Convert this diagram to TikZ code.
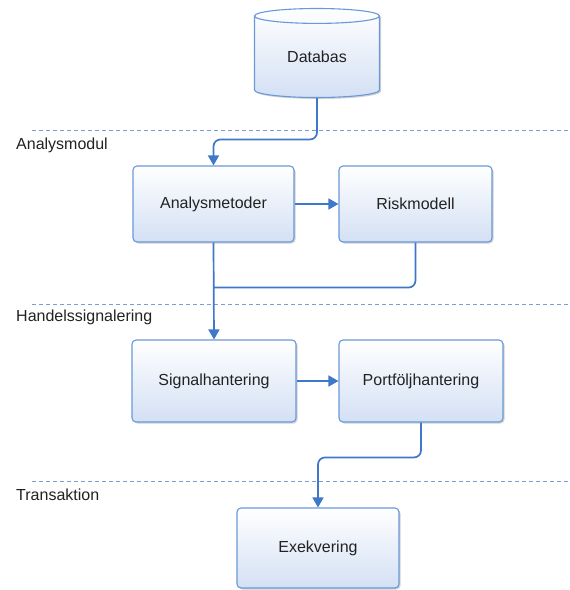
\documentclass[tikz,border=0pt]{standalone}
\usepackage{fontspec}
\setmainfont{Liberation Sans}
\usetikzlibrary{arrows.meta,shapes.geometric,shadows,calc}
\definecolor{boxborder}{HTML}{6A98D8}
\definecolor{boxbot}{HTML}{D3E0F4}
\definecolor{conncol}{HTML}{3F78C8}
\definecolor{dashcol}{HTML}{7B9FD4}
\definecolor{txtcol}{HTML}{222222}
\tikzset{
  box/.style={draw=boxborder, line width=1.1pt, rounded corners=4pt,
    top color=white, bottom color=boxbot, inner sep=0pt,
    font=\fontsize{16}{18}\selectfont, text=txtcol,
    drop shadow={shadow xshift=1.5pt, shadow yshift=-1.5pt, fill=black, opacity=0.18}},
  dbstyle/.style={cylinder, shape border rotate=90, aspect=0.25,
    draw=boxborder, line width=1.1pt, top color=white, bottom color=boxbot,
    inner sep=0pt, font=\fontsize{16}{18}\selectfont, text=txtcol,
    drop shadow={shadow xshift=1.5pt, shadow yshift=-1.5pt, fill=black, opacity=0.18}},
  conn/.style={draw=conncol, line width=1.7pt, rounded corners=7pt},
  arr/.style={conn, -{Triangle[width=11pt,length=10pt]}},
  sep/.style={draw=dashcol, line width=1pt, dash pattern=on 4pt off 3pt},
  lane/.style={anchor=base west, font=\fontsize{16}{18}\selectfont, text=txtcol, inner sep=0pt}
}
\begin{document}
\begin{tikzpicture}[x=1pt,y=-1pt]
\useasboundingbox (0,0) rectangle (570,590);
% separators
\draw[sep] (32,130) -- (570,130);
\draw[sep] (32,304) -- (570,304);
\draw[sep] (32,481) -- (570,481);
% lane labels
\node[lane] (l1) at (16,149) {Analysmodul};
\node[lane] (l2) at (16,321) {Handelssignalering};
\node[lane] (l3) at (16,500) {Transaktion};
% nodes
\node[dbstyle, minimum width=125pt, minimum height=89pt] (db) at (317,57) {Databas};
\node[box, minimum width=161pt, minimum height=76pt] (am) at (213.5,204) {Analysmetoder};
\node[box, minimum width=153pt, minimum height=76pt] (rm) at (415.5,204) {Riskmodell};
\node[box, minimum width=164pt, minimum height=82pt] (sig) at (214,381) {Signalhantering};
\node[box, minimum width=164pt, minimum height=82pt] (port) at (421,381) {Portföljhantering};
\node[box, minimum width=162pt, minimum height=80pt] (exe) at (318,548) {Exekvering};
% connectors
\draw[arr] (db.south) |- ($(am.north)+(0,-26)$) -- (am.north);
\draw[arr] (am.east) -- (rm.west);
\coordinate (mj) at ($(am.south)+(0,45)$);
\draw[conn] (rm.south) |- (mj);
\draw[arr] (am.south) -- (sig.north);
\draw[arr] (sig.east) -- (port.west);
\draw[arr] (port.south) |- ($(exe.north)+(0,-50)$) -- (exe.north);
\end{tikzpicture}
\end{document}
